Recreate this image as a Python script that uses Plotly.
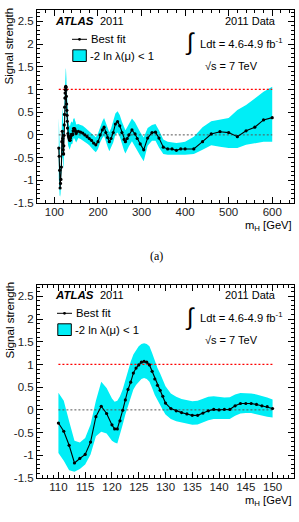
import plotly.graph_objects as go

# ---------------- data ----------------
# low-mass scan (used in both panels)
mass_zoom = [110, 111, 112, 113, 114, 115, 116, 117, 118, 119, 120,
             120.5, 121, 121.5, 122, 122.5, 123, 123.5, 124, 124.5, 125,
             125.5, 126, 126.5, 127, 127.5, 128, 128.5, 129, 129.5, 130,
             131, 132, 133, 134, 135, 136, 137, 138, 139, 140,
             141, 142, 143, 144, 145, 146, 147, 148, 149, 150]
mu_zoom = [-0.29, -0.47, -0.78, -1.17, -1.07, -0.98, -0.71, -0.15, 0.08, -0.08, -0.33,
           -0.42, -0.42, -0.24, -0.01, 0.22, 0.45, 0.61, 0.81, 0.92, 0.99,
           1.05, 1.07, 1.05, 0.99, 0.85, 0.68, 0.54, 0.43, 0.30, 0.15,
           0.03, -0.02, -0.06, -0.09, -0.12, -0.12, -0.07, -0.02, 0.01, 0.00,
           0.01, 0.01, 0.09, 0.14, 0.14, 0.14, 0.12, 0.09, 0.07, 0.03]
lo_zoom = [-0.95, -1.12, -1.33, -1.36, -1.30, -1.20, -0.98, -0.58, -0.48, -0.52, -0.68,
           -0.72, -0.74, -0.55, -0.33, -0.10, 0.10, 0.28, 0.45, 0.55, 0.62,
           0.68, 0.70, 0.68, 0.62, 0.48, 0.33, 0.20, 0.10, 0.00, -0.10,
           -0.20, -0.25, -0.28, -0.30, -0.33, -0.32, -0.28, -0.23, -0.20, -0.20,
           -0.20, -0.20, -0.13, -0.08, -0.07, -0.07, -0.10, -0.12, -0.15, -0.17]
hi_zoom = [0.38, 0.20, -0.25, -0.68, -0.72, -0.62, -0.32, 0.20, 0.62, 0.48, 0.25,
           0.18, 0.20, 0.30, 0.45, 0.66, 0.88, 1.06, 1.22, 1.32, 1.40,
           1.45, 1.47, 1.45, 1.40, 1.25, 1.06, 0.92, 0.80, 0.67, 0.52,
           0.36, 0.29, 0.24, 0.21, 0.19, 0.20, 0.25, 0.29, 0.30, 0.28,
           0.27, 0.28, 0.34, 0.37, 0.37, 0.36, 0.34, 0.31, 0.27, 0.23]

# high-mass continuation (top panel only)
mass_high = [155, 160, 165, 170, 175, 180, 185, 190, 195, 200, 205, 210, 214, 218, 222,
             226, 230, 235, 240, 245, 250, 255, 260, 263, 267, 271, 278, 285, 290, 297,
             305, 314, 324, 332, 340, 350, 360, 370, 380, 390, 400, 420, 440, 460, 480,
             500, 520, 540, 560, 580, 600]
mu_high = [0.08, 0.06, 0.04, 0.00, -0.04, -0.08, -0.12, -0.18, -0.22, -0.15, 0.00, 0.11, 0.17, 0.05, -0.06,
           -0.15, -0.08, 0.05, 0.24, 0.29, 0.20, 0.05, -0.10, -0.15, -0.08, 0.00, 0.11, 0.02, -0.08, -0.20,
           -0.33, -0.07, 0.05, 0.06, -0.07, -0.27, -0.31, -0.31, -0.34, -0.31, -0.31, -0.31, -0.15, 0.02, 0.07,
           0.05, -0.04, 0.09, 0.17, 0.33, 0.38]
lo_high = [-0.07, -0.09, -0.11, -0.15, -0.19, -0.23, -0.28, -0.34, -0.38, -0.31, -0.17, -0.07, -0.02, -0.14, -0.26,
           -0.36, -0.30, -0.17, 0.01, 0.05, -0.04, -0.19, -0.35, -0.41, -0.34, -0.25, -0.14, -0.24, -0.34, -0.46,
           -0.58, -0.24, -0.13, -0.13, -0.28, -0.42, -0.44, -0.44, -0.45, -0.44, -0.44, -0.42, -0.33, -0.23, -0.26,
           -0.29, -0.29, -0.22, -0.18, -0.15, -0.15]
hi_high = [0.24, 0.22, 0.20, 0.16, 0.12, 0.08, 0.04, -0.01, -0.05, 0.03, 0.18, 0.30, 0.37, 0.25, 0.14,
           0.06, 0.14, 0.28, 0.47, 0.52, 0.44, 0.29, 0.15, 0.10, 0.17, 0.25, 0.36, 0.28, 0.18, 0.06,
           -0.06, 0.15, 0.22, 0.24, 0.10, -0.10, -0.15, -0.17, -0.18, -0.17, -0.15, -0.04, 0.17, 0.30, 0.33,
           0.37, 0.55, 0.66, 0.80, 0.95, 1.06]

mass_full = mass_zoom + mass_high
mu_full = mu_zoom + mu_high
lo_full = lo_zoom + lo_high
hi_full = hi_zoom + hi_high

y_ticks = [-1.5, -1, -0.5, 0, 0.5, 1, 1.5, 2, 2.5]
y_tick_labels = ["-1.5", "-1", "-0.5", "0", "0.5", "1", "1.5", "2", "2.5"]
x_ticks_top = [100, 200, 300, 400, 500, 600]
x_ticks_bot = [110, 115, 120, 125, 130, 135, 140, 145, 150]

# ---------------- geometry helpers ----------------
W, H = 299, 522
ML, MR, MT, MB = 37, 5, 10, 44
PW, PH = W - ML - MR, H - MT - MB


def px(x):
    return (x - ML) / PW


def py(y):
    return (H - MB - y) / PH


FONT = "Liberation Sans"
CYAN = "#00eef6"

fig = go.Figure()


def add_panel(xs, ys, lo, hi, xa, ya):
    band_x = xs + xs[::-1]
    band_y = hi + lo[::-1]
    fig.add_trace(go.Scatter(x=band_x, y=band_y, fill="toself", fillcolor=CYAN,
                             line=dict(width=0), mode="lines", hoverinfo="skip",
                             xaxis=xa, yaxis=ya))
    fig.add_trace(go.Scatter(x=[xs[0], xs[-1]], y=[0, 0], mode="lines",
                             line=dict(color="#555555", width=1, dash="2px,2px"),
                             xaxis=xa, yaxis=ya))
    fig.add_trace(go.Scatter(x=[xs[0], xs[-1]], y=[1, 1], mode="lines",
                             line=dict(color="#ff0000", width=1.2, dash="2px,2px"),
                             xaxis=xa, yaxis=ya))
    fig.add_trace(go.Scatter(x=xs, y=ys, mode="lines+markers",
                             line=dict(color="black", width=1.1),
                             marker=dict(color="black", size=3.2, symbol="circle"),
                             xaxis=xa, yaxis=ya))


add_panel(mass_full, mu_full, lo_full, hi_full, "x", "y")
add_panel(mass_zoom, mu_zoom, lo_zoom, hi_zoom, "x2", "y2")

tickfont = dict(family=FONT, size=11.5, color="#222222")


def xaxis(rng, ticks, minor_dtick, anchor):
    return dict(range=rng, tickvals=ticks, ticktext=[str(t) for t in ticks],
                showline=True, linecolor="black", linewidth=1, mirror="allticks",
                ticks="inside", ticklen=6, tickwidth=1, tickcolor="black",
                ticklabelstandoff=-2,
                minor=dict(ticks="inside", ticklen=3, tickwidth=1, tickcolor="black",
                           dtick=minor_dtick),
                showgrid=False, zeroline=False, tickfont=tickfont, anchor=anchor,
                domain=[0, 1])


def yaxis(domain, anchor):
    return dict(range=[-1.5, 2.75], tickvals=y_ticks, ticktext=y_tick_labels,
                showline=True, linecolor="black", linewidth=1, mirror="allticks",
                ticks="inside", ticklen=6, tickwidth=1, tickcolor="black",
                minor=dict(ticks="inside", ticklen=3, tickwidth=1, tickcolor="black",
                           dtick=0.1, tick0=0),
                showgrid=False, zeroline=False, tickfont=tickfont, anchor=anchor,
                domain=domain)


fig.update_layout(
    width=W, height=H,
    margin=dict(l=ML, r=MR, t=MT, b=MB, pad=0),
    paper_bgcolor="white", plot_bgcolor="white",
    showlegend=False,
    xaxis=xaxis([60, 650], x_ticks_top, 20, "y"),
    yaxis=yaxis([py(203), 1], "x"),
    xaxis2=xaxis([106, 154], x_ticks_bot, 1, "y2"),
    yaxis2=yaxis([0, py(285)], "x2"),
)

annotations = []
shapes = []


def ann(text, x, y, size=11, xanchor="left", yanchor="middle", family=FONT,
        angle=0, color="black"):
    annotations.append(dict(text=text, x=px(x), y=py(y), xref="paper", yref="paper",
                            xanchor=xanchor, yanchor=yanchor, showarrow=False,
                            textangle=angle, font=dict(family=family, size=size, color=color)))


def panel_text(dy, leg_x):
    # ATLAS label
    ann("<b><i>ATLAS</i></b>", 53, 20.5 + dy, size=11.5)
    ann("2011", 97.5, 20.5 + dy, size=11)
    ann("2011 Data", 278, 21 + dy, size=11, xanchor="right")
    ann("∫", 190, 42.5 + dy, size=24, xanchor="center")
    ann("Ldt = 4.6-4.9 fb<sup>-1</sup>", 197.5, 43 + dy, size=11.2)
    ann("√s = 7 TeV", 203, 65.5 + dy, size=11)
    # legend
    lx0 = leg_x
    shapes.append(dict(type="line", xref="paper", yref="paper",
                       x0=px(lx0), x1=px(lx0 + 15), y0=py(39.3 + dy), y1=py(39.3 + dy),
                       line=dict(color="black", width=1)))
    shapes.append(dict(type="circle", xref="paper", yref="paper",
                       x0=px(lx0 + 6.1), x1=px(lx0 + 8.9), y0=py(37.9 + dy), y1=py(40.7 + dy),
                       fillcolor="black", line=dict(color="black", width=0)))
    ann("Best fit", lx0 + 16.5, 39.3 + dy, size=11.3)
    shapes.append(dict(type="rect", xref="paper", yref="paper",
                       x0=px(lx0 + 0.8), x1=px(lx0 + 14.3), y0=py(61.5 + dy), y1=py(49.8 + dy),
                       fillcolor=CYAN, line=dict(color="black", width=1)))
    ann("-2 ln λ(μ) &lt; 1", lx0 + 15.5, 56 + dy, size=11.3)
    # axis titles
    ann("Signal strength", 9, 46.5 + dy, size=11.5, xanchor="center", angle=-90)


panel_text(0, 72)
panel_text(274, 57)

ann("m<sub>H</sub> [GeV]", 293.5, 226, size=11.2, xanchor="right")
ann("m<sub>H</sub> [GeV]", 293.5, 501, size=11.2, xanchor="right")
ann("(a)", 156, 256, size=12, xanchor="center", family="Liberation Serif")

fig.update_layout(annotations=annotations, shapes=shapes)

fig.write_html("out.html")
